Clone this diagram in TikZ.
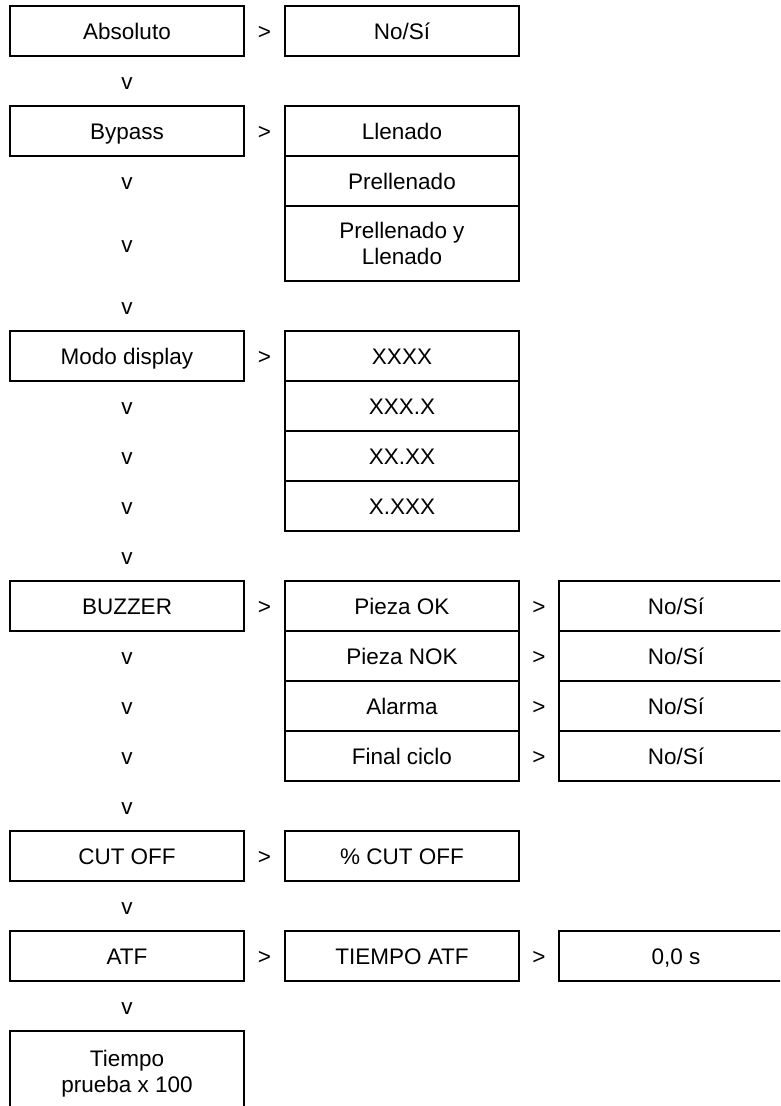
\documentclass[tikz,border=0pt]{standalone}
\usepackage{fontspec}
\setmainfont{Liberation Sans}
\begin{document}
\begin{tikzpicture}[x=1pt,y=-1pt,
        menu/.style={draw,line width=2pt,minimum width=234pt,minimum height=50pt,inner sep=0pt,align=center,text height=19pt,text depth=2pt,font=\fontsize{22.5}{26}\selectfont},
        tall/.style={menu,minimum height=75pt,text height={},text depth={}},
        sym/.style={inner sep=0pt,text height=19pt,text depth=2pt,font=\fontsize{22.5}{26}\selectfont}]
        \useasboundingbox (0,0) rectangle (780,1106);
        \clip (0,0) rectangle (780,1106);
        \node[menu] (abs) at (127,31) {Absoluto};
        \node[sym] (absgt) at (264.5,31) {>};
        \node[menu] (absval) at (402,31) {No/Sí};
        \node[sym] (v1) at (127,81) {v};
        \node[menu] (byp) at (127,131) {Bypass};
        \node[sym] (bypgt) at (264.5,131) {>};
        \node[menu] (lle) at (402,131) {Llenado};
        \node[sym] (v2) at (127,181) {v};
        \node[menu] (pre) at (402,181) {Prellenado};
        \node[sym] (v3) at (127,243.5) {v};
        \node[tall] (prelle) at (402,243.5) {Prellenado y\\Llenado};
        \node[sym] (v4) at (127,306) {v};
        \node[menu] (modo) at (127,356) {Modo display};
        \node[sym] (modogt) at (264.5,356) {>};
        \node[menu] (xa) at (402,356) {XXXX};
        \node[sym] (v5) at (127,406) {v};
        \node[menu] (xb) at (402,406) {XXX.X};
        \node[sym] (v6) at (127,456) {v};
        \node[menu] (xc) at (402,456) {XX.XX};
        \node[sym] (v7) at (127,506) {v};
        \node[menu] (xd) at (402,506) {X.XXX};
        \node[sym] (v8) at (127,556) {v};
        \node[menu] (buz) at (127,606) {BUZZER};
        \node[sym] (buzgt) at (264.5,606) {>};
        \node[menu] (ok) at (402,606) {Pieza OK};
        \node[sym] (okgt) at (539,606) {>};
        \node[menu] (okval) at (676,606) {No/Sí};
        \node[sym] (v9) at (127,656) {v};
        \node[menu] (nok) at (402,656) {Pieza NOK};
        \node[sym] (nokgt) at (539,656) {>};
        \node[menu] (nokval) at (676,656) {No/Sí};
        \node[sym] (v10) at (127,706) {v};
        \node[menu] (alar) at (402,706) {Alarma};
        \node[sym] (alargt) at (539,706) {>};
        \node[menu] (alarval) at (676,706) {No/Sí};
        \node[sym] (v11) at (127,756) {v};
        \node[menu] (fin) at (402,756) {Final ciclo};
        \node[sym] (fingt) at (539,756) {>};
        \node[menu] (finval) at (676,756) {No/Sí};
        \node[sym] (v12) at (127,806) {v};
        \node[menu] (cut) at (127,856) {CUT OFF};
        \node[sym] (cutgt) at (264.5,856) {>};
        \node[menu] (cutval) at (402,856) {\% CUT OFF};
        \node[sym] (v13) at (127,906) {v};
        \node[menu] (atf) at (127,956) {ATF};
        \node[sym] (atfgt) at (264.5,956) {>};
        \node[menu] (tatf) at (402,956) {TIEMPO ATF};
        \node[sym] (tatfgt) at (539,956) {>};
        \node[menu] (tatfval) at (676,956) {0,0 s};
        \node[sym] (v14) at (127,1006) {v};
        \node[tall,minimum height=85pt] (prueba) at (127,1073.5) {Tiempo\\prueba x 100};
    \end{tikzpicture}
\end{document}
